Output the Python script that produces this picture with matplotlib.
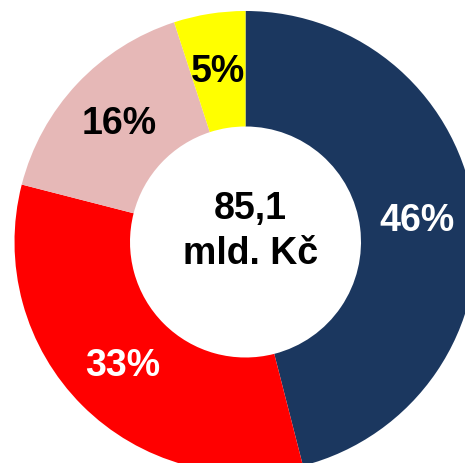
import matplotlib.pyplot as plt

plt.rcParams['font.family'] = ['Liberation Sans', 'DejaVu Sans']

# Shares (%) going clockwise from the top
shares = [46, 33, 16, 5]
colors = ['#1B375F', '#FF0000', '#E6B8B7', '#FFFF00']
label_colors = ['white', 'white', 'black', 'black']
center_text = '85,1\nmld. Kč'

fig = plt.figure(figsize=(4.65, 4.64), dpi=100)
ax = fig.add_axes([0, 0, 1, 1])

wedges, texts, autotexts = ax.pie(
    shares, colors=colors, startangle=90, counterclock=False,
    autopct='%d%%', pctdistance=0.75, radius=1.0,
    wedgeprops=dict(width=0.5, linewidth=0),
)
for t, c in zip(autotexts, label_colors):
    t.set_color(c)
    t.set_fontsize(27)
    t.set_fontweight('bold')

ax.text(0.02, 0.05, center_text, ha='center', va='center',
        fontsize=27, fontweight='bold', color='black', linespacing=1.35)

# pie is cropped by the image edges on the right and bottom
ax.set_xlim(-1.0628, 0.9502)
ax.set_ylim(-0.9567, 1.0519)
ax.set_aspect('auto')
ax.axis('off')

fig.savefig('out.png', dpi=100)
